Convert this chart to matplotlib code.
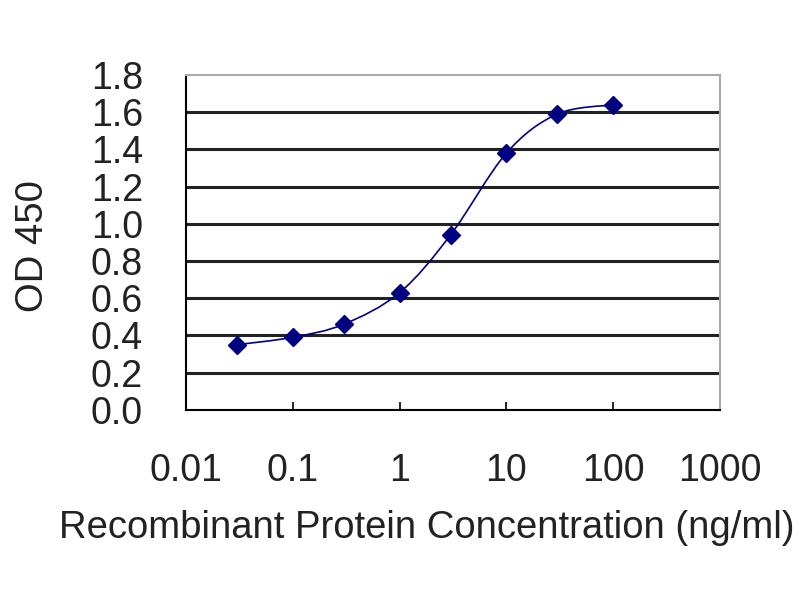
import numpy as np
import matplotlib
matplotlib.use("Agg")
import matplotlib.pyplot as plt
from matplotlib.path import Path
from matplotlib.patches import PathPatch
from matplotlib.ticker import FixedLocator, NullLocator

# ELISA standard curve
conc = [0.03, 0.1, 0.3, 1, 3, 10, 30, 100]
od450 = [0.35, 0.39, 0.46, 0.63, 0.94, 1.38, 1.59, 1.64]
xticks = [0.01, 0.1, 1, 10, 100, 1000]
xticklabels = ["0.01", "0.1", "1", "10", "100", "1000"]
yticks = [0.0, 0.2, 0.4, 0.6, 0.8, 1.0, 1.2, 1.4, 1.6, 1.8]

plt.rcParams["font.family"] = ["Liberation Sans", "DejaVu Sans"]
navy = "#000080"
txt = "#222222"

fig = plt.figure(figsize=(8, 6), dpi=100)
ax = fig.add_axes([0.2325, 0.317, 0.6675, 0.558])
ax.set_xscale("log")
ax.set_xlim(0.01, 1000)
ax.set_ylim(0, 1.8)

# grid lines
for yv in yticks[1:-1]:
    ax.axhline(yv, color="#222222", lw=2.2, zorder=1)

# smooth connecting line (Excel style), bezier through the points in log-x space
lx = np.log10(conc)
yy = np.array(od450)
verts = [(conc[0], yy[0])]
codes = [Path.MOVETO]
for i in range(len(lx) - 1):
    p0 = (lx[i - 1], yy[i - 1]) if i > 0 else (lx[i], yy[i])
    p1 = (lx[i], yy[i])
    p2 = (lx[i + 1], yy[i + 1])
    p3 = (lx[i + 2], yy[i + 2]) if i + 2 < len(lx) else (lx[i + 1], yy[i + 1])
    c1 = (p1[0] + (p2[0] - p0[0]) / 6, p1[1] + (p2[1] - p0[1]) / 6)
    c2 = (p2[0] - (p3[0] - p1[0]) / 6, p2[1] - (p3[1] - p1[1]) / 6)
    verts += [(10 ** c1[0], c1[1]), (10 ** c2[0], c2[1]), (10 ** p2[0], p2[1])]
    codes += [Path.CURVE4, Path.CURVE4, Path.CURVE4]
ax.add_patch(PathPatch(Path(verts, codes), facecolor="none", edgecolor=navy,
                       lw=1.2, zorder=3))
ax.plot(conc, od450, linestyle="none", marker="D", markersize=9.5,
        color=navy, zorder=4)

ax.xaxis.set_major_locator(FixedLocator(xticks))
ax.xaxis.set_minor_locator(NullLocator())
ax.set_xticklabels(xticklabels)
ax.set_yticks(yticks)
ax.set_yticklabels(["%.1f" % v for v in yticks])

ax.tick_params(axis="x", direction="in", length=6, width=1.2, pad=31,
               labelsize=27, labelcolor=txt)
ax.tick_params(axis="y", length=0, pad=31, labelsize=27, labelcolor=txt)

for side in ["left", "bottom"]:
    ax.spines[side].set_color("black")
    ax.spines[side].set_linewidth(1.5)
for side in ["top", "right"]:
    ax.spines[side].set_color("#aaaaaa")
    ax.spines[side].set_linewidth(1.5)

ax.set_xlabel("Recombinant Protein Concentration (ng/ml)", fontsize=27.5,
              color=txt)
ax.set_ylabel("OD 450", fontsize=27.5, color=txt)
ax.xaxis.set_label_coords(0.451, -0.30)
ax.yaxis.set_label_coords(-0.252, 0.49)

fig.savefig("out.png", dpi=100)
